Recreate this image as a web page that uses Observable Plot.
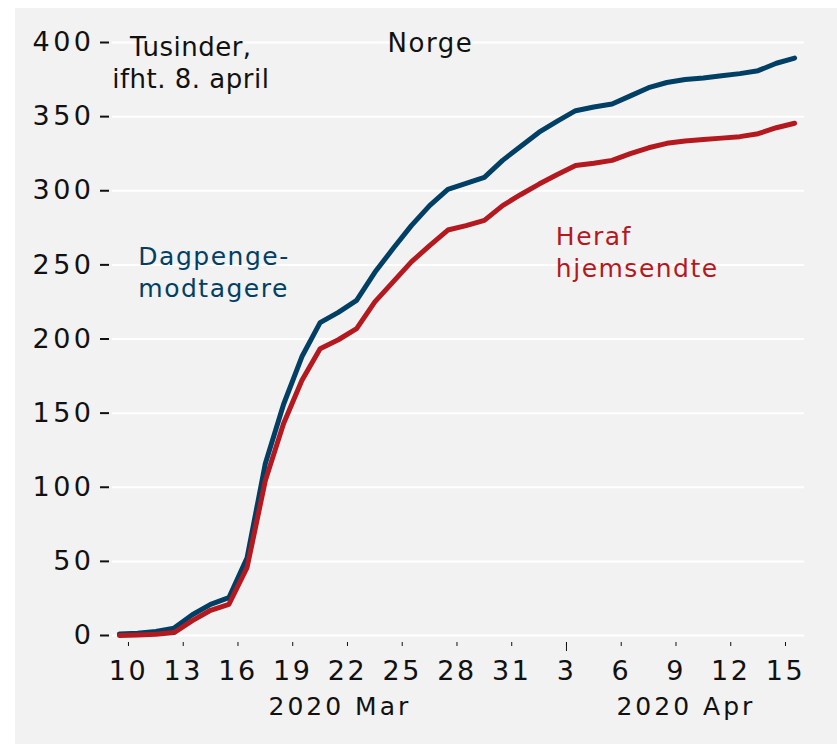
<!DOCTYPE html>
<html>
<head>
<meta charset="utf-8">
<script src="https://cdn.jsdelivr.net/npm/d3@7"></script>
<script src="https://cdn.jsdelivr.net/npm/@observablehq/plot@0.6"></script>
<style>
html, body { margin: 0; padding: 0; background: #ffffff; }
#wrap { position: absolute; left: 15px; top: 8px; width: 822px; height: 736px; background: #f2f2f2; }
#wrap g[aria-label="y-axis tick label"] text { letter-spacing: 3.5px; }
#wrap g[aria-label="x-axis tick label"] text { letter-spacing: 2.5px; }
#wrap .month-label text { letter-spacing: 3px; }
#wrap .unit-label text { letter-spacing: 0.5px; }
</style>
</head>
<body>
<div id="wrap"></div>
<script>
// ---- data (thousands) ----
const firstDay = "2020-03-09";
const lastDay = "2020-04-15";
const dagpengemodtagere = [1, 1.5, 2.7, 5, 14, 21, 25.5, 52.5, 116, 156, 188, 211, 218, 226, 245, 261, 276.5, 290, 301, 305, 309, 320.5, 330, 339.5, 347, 354, 356.5, 358.5, 364, 369.5, 373, 375, 376, 377.5, 379, 381, 386, 389.5];
const herafHjemsendte = [0, 0.3, 0.8, 2, 10, 17, 21, 46, 104.5, 143, 172, 193.5, 199.5, 207, 225, 238.5, 252, 263, 273.5, 276.5, 280, 290, 297.5, 304.5, 311, 317, 318.5, 320.5, 325, 329, 332, 333.5, 334.5, 335.5, 336.5, 338.5, 342.5, 345.5];
const xTickDates = ["2020-03-10", "2020-03-13", "2020-03-16", "2020-03-19", "2020-03-22", "2020-03-25", "2020-03-28", "2020-03-31", "2020-04-03", "2020-04-06", "2020-04-09", "2020-04-12", "2020-04-15"];
const yTicks = [0, 50, 100, 150, 200, 250, 300, 350, 400];
const monthLabels = ["2020 Mar", "2020 Apr"];
const seriesNames = ["Dagpenge-\nmodtagere", "Heraf\nhjemsendte"];
const titleText = "Norge";
const unitText = "Tusinder,\nifht. 8. april";

const blue = "#023f64";
const red = "#b3191f";

const days = d3.utcDay.range(new Date(firstDay), d3.utcDay.offset(new Date(lastDay), 1));
const rows = days.map((d, i) => ({
  date: d3.utcHour.offset(d, 12),
  dagpenge: dagpengemodtagere[i],
  hjemsendte: herafHjemsendte[i]
}));
const xTicks = xTickDates.map(s => new Date(s));
const dayAt = (s, h) => d3.utcHour.offset(new Date(s), h);

const chart = Plot.plot({
  width: 822,
  height: 736,
  marginTop: 34,
  marginBottom: 109,
  marginLeft: 97,
  marginRight: 33,
  style: { background: "transparent", fontFamily: "DejaVu Sans", fontSize: "26px", color: "#111", letterSpacing: "1.5px", overflow: "visible" },
  x: { type: "utc", domain: [dayAt("2020-03-09", 3), dayAt("2020-04-16", 1)] },
  y: { domain: [0, 400] },
  marks: [
    Plot.gridY(yTicks, { stroke: "#ffffff", strokeOpacity: 1, strokeWidth: 2 }),
    Plot.axisY(yTicks, { tickSize: 9, dx: -3, tickPadding: 6, strokeWidth: 2, label: null, fontSize: 27 }),
    Plot.axisX(xTicks, { tickSize: 4, dy: 7, fill: "none", label: null }),
    Plot.axisX([xTicks[8]], { tickSize: 9, dy: 7, fill: "none", label: null }),
    Plot.axisX(xTicks, { tickSize: 0, tickPadding: 25, tickFormat: d => d.getUTCDate(), label: null, fontSize: 27 }),
    Plot.text([monthLabels[0]], { x: dayAt("2020-03-21", 14), frameAnchor: "bottom", dy: 62, lineAnchor: "top", text: d => d, fontSize: 25, fill: "#111", className: "month-label" }),
    Plot.text([monthLabels[1]], { x: dayAt("2020-04-09", 13), frameAnchor: "bottom", dy: 62, lineAnchor: "top", text: d => d, fontSize: 25, fill: "#111", className: "month-label" }),
    Plot.lineY(rows, { x: "date", y: "dagpenge", stroke: blue, strokeWidth: 5 }),
    Plot.lineY(rows, { x: "date", y: "hjemsendte", stroke: red, strokeWidth: 5 }),
    Plot.text([unitText], { x: dayAt("2020-03-13", 10), y: 406, text: d => d, lineAnchor: "top", textAnchor: "middle", fontSize: 26, lineHeight: 1.22, fill: "#111", className: "unit-label" }),
    Plot.text([titleText], { x: dayAt("2020-03-26", 13), y: 406, text: d => d, lineAnchor: "top", textAnchor: "middle", fontSize: 26, fill: "#111" }),
    Plot.text([seriesNames[0]], { x: dayAt("2020-03-10", 13), y: 265, text: d => d, lineAnchor: "top", textAnchor: "start", fontSize: 25, lineHeight: 1.28, fill: blue }),
    Plot.text([seriesNames[1]], { x: dayAt("2020-04-02", 10), y: 279, text: d => d, lineAnchor: "top", textAnchor: "start", fontSize: 25, lineHeight: 1.28, fill: red })
  ]
});
document.getElementById("wrap").appendChild(chart);
</script>
</body>
</html>
